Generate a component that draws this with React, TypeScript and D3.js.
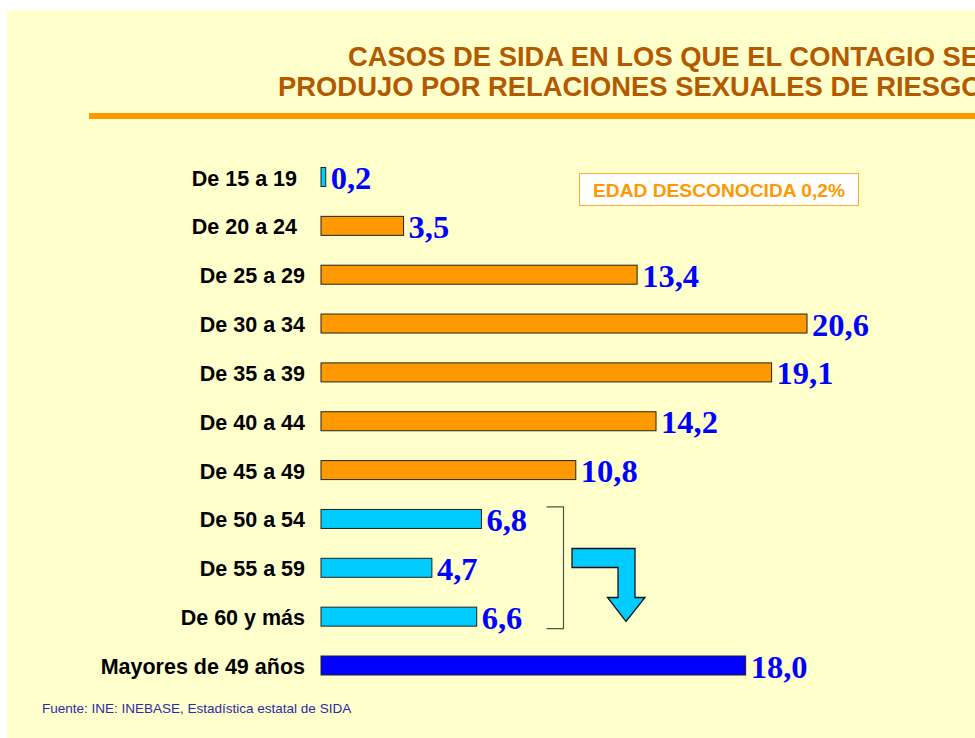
import React from "react";
import * as d3 from "d3";

const categories = [
  "De 15 a 19",
  "De 20 a 24",
  "De 25 a 29",
  "De 30 a 34",
  "De 35 a 39",
  "De 40 a 44",
  "De 45 a 49",
  "De 50 a 54",
  "De 55 a 59",
  "De 60 y más",
  "Mayores de 49 años",
];
const values = [0.2, 3.5, 13.4, 20.6, 19.1, 14.2, 10.8, 6.8, 4.7, 6.6, 18.0];
const groupKeys = ["young", "mid", "mid", "mid", "mid", "mid", "mid", "old", "old", "old", "total"];
const valueLabels = ["0,2", "3,5", "13,4", "20,6", "19,1", "14,2", "10,8", "6,8", "4,7", "6,6", "18,0"];
const titleLines = [
  "CASOS DE SIDA EN LOS QUE EL CONTAGIO SE",
  "PRODUJO POR RELACIONES SEXUALES DE RIESGO",
];
const noteText = "EDAD DESCONOCIDA 0,2%";
const sourceText = "Fuente: INE: INEBASE, Estadística estatal de SIDA";

const palette: Record<string, string> = {
  young: "#00CCFF",
  mid: "#FF9900",
  old: "#00CCFF",
  total: "#0000FF",
};

const W = 975;
const H = 738;
const SANS = "'Liberation Sans', Arial, Helvetica, sans-serif";
const SERIF = "'Liberation Serif', 'Times New Roman', Times, serif";

export default function App() {
  const x = d3
    .scaleLinear()
    .domain([0, d3.max(values) as number])
    .range([321, 807]);
  const y = d3
    .scalePoint<string>()
    .domain(categories)
    .range([177, 665.5]);
  const bh = 19;

  // bracket around the 50+ groups
  const yTop = (y("De 50 a 54") as number) - 12;
  const yBot = (y("De 60 y más") as number) + 12;
  const bx = 563.5;

  const arrowPts: [number, number][] = [
    [572, 548.5],
    [635, 548.5],
    [635, 597.5],
    [645, 597.5],
    [626, 621.5],
    [607.5, 597.5],
    [618, 597.5],
    [618, 567.5],
    [572, 567.5],
  ];

  return (
    <svg
      width={W}
      height={H}
      style={{ position: "absolute", left: 0, top: 0, display: "block" }}
    >
      <rect x={0} y={0} width={W} height={H} fill="#ffffff" />
      <rect x={7} y={10} width={W - 7} height={H - 10} fill="#FFFFCC" />

      {/* title */}
      <text
        x={348}
        y={66}
        fill="#B35A00"
        fontFamily={SANS}
        fontWeight="bold"
        fontSize={27.4}
      >
        {titleLines[0]}
      </text>
      <text
        x={278}
        y={96}
        fill="#B35A00"
        fontFamily={SANS}
        fontWeight="bold"
        fontSize={27.4}
      >
        {titleLines[1]}
      </text>
      <rect x={89} y={113} width={W - 89} height={6} fill="#FF9900" />

      {/* note box */}
      <rect
        x={579.5}
        y={173.5}
        width={279}
        height={32}
        fill="#ffffff"
        stroke="#FFAA33"
        strokeWidth={1}
      />
      <text
        x={719}
        y={196.5}
        textAnchor="middle"
        fill="#FF9900"
        fontFamily={SANS}
        fontWeight="bold"
        fontSize={19.2}
      >
        {noteText}
      </text>

      {/* bars */}
      {categories.map((c, i) => {
        const cy = y(c) as number;
        const x0 = x(0);
        const x1 = x(values[i]);
        return (
          <g key={c}>
            <text
              x={i < 2 ? 297 : 305}
              y={cy + 8.5}
              textAnchor="end"
              fill="#000000"
              fontFamily={SANS}
              fontWeight="bold"
              fontSize={21.5}
            >
              {c}
            </text>
            <rect
              x={x0}
              y={cy - bh / 2}
              width={x1 - x0}
              height={bh}
              fill={palette[groupKeys[i]]}
              stroke="#222222"
              strokeWidth={1}
            />
            <text
              x={x1 + 5}
              y={cy + 12}
              fill="#0000FF"
              fontFamily={SERIF}
              fontWeight="bold"
              fontSize={32.5}
            >
              {valueLabels[i]}
            </text>
          </g>
        );
      })}

      {/* bracket */}
      <path
        d={`M${bx - 17},${yTop} H${bx} V${yBot} H${bx - 17}`}
        fill="none"
        stroke="#555544"
        strokeWidth={1.2}
      />

      {/* arrow */}
      <polygon
        points={arrowPts.map((p) => p.join(",")).join(" ")}
        fill="#00CCFF"
        stroke="#111111"
        strokeWidth={1.3}
        strokeLinejoin="miter"
      />

      {/* source */}
      <text
        x={42}
        y={713}
        fill="#2B2BA8"
        fontFamily={SANS}
        fontSize={13.5}
      >
        {sourceText}
      </text>
    </svg>
  );
}
